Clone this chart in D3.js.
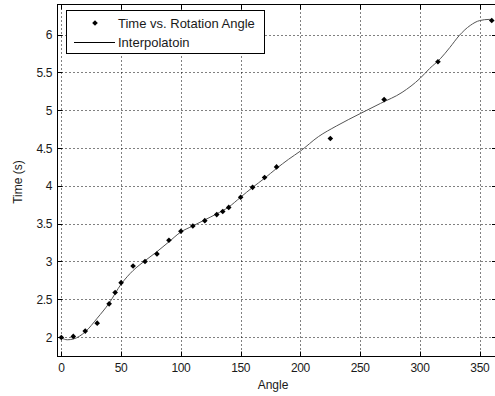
<!DOCTYPE html>
<html>
<head>
<meta charset="utf-8">
<script src="https://cdn.jsdelivr.net/npm/d3@7"></script>
<style>
  body { margin: 0; background: #fff; }
  text { font-family: "Liberation Sans", Arial, sans-serif; fill: #1a1a1a; }
</style>
</head>
<body>
<div id="chart"></div>
<script>
// measured samples (angle, time)
const angles = [0, 10, 20, 30, 40, 45, 50, 60, 70, 80, 90, 100, 110, 120, 130, 135, 140, 150, 160, 170, 180, 225, 270, 315, 360];
const times = [1.995, 2.01, 2.08, 2.185, 2.44, 2.59, 2.72, 2.94, 3.0, 3.1, 3.28, 3.40, 3.47, 3.54, 3.62, 3.66, 3.715, 3.85, 3.98, 4.11, 4.25, 4.625, 5.14, 5.64, 6.186];

// interpolation curve
const curveX = [0, 5, 10, 20, 30, 40, 50, 60, 70, 80, 90, 100, 110, 120, 130, 140, 150, 160, 170, 180, 190, 200, 215, 230, 250, 267, 285, 300, 308, 317, 325, 333, 342, 350, 358, 362];
const curveY = [1.99, 1.965, 1.975, 2.07, 2.25, 2.45, 2.7, 2.88, 3.01, 3.13, 3.26, 3.39, 3.47, 3.55, 3.63, 3.72, 3.85, 3.98, 4.1, 4.23, 4.35, 4.46, 4.65, 4.79, 4.955, 5.09, 5.235, 5.42, 5.55, 5.68, 5.83, 5.99, 6.12, 6.185, 6.2, 6.18];

const xTicks = [0, 50, 100, 150, 200, 250, 300, 350];
const yTicks = [2, 2.5, 3, 3.5, 4, 4.5, 5, 5.5, 6];

const legendLabels = ["Time vs. Rotation Angle", "Interpolatoin"];

const width = 495, height = 396;
const plotLeft = 57.5, plotRight = 497, plotTop = 4.5, plotBottom = 356.5;

const svg = d3.select("#chart").append("svg")
    .attr("width", width)
    .attr("height", height);

const x = d3.scaleLinear().domain([-3.2, 364.4]).range([plotLeft, plotRight]);
const y = d3.scaleLinear().domain([1.744, 6.397]).range([plotBottom, plotTop]);

const marker = d3.symbol().type(d3.symbolDiamond2 || d3.symbolDiamond).size(20);

// dotted grid
svg.append("g").selectAll("line")
    .data(xTicks)
    .enter().append("line")
    .attr("x1", d => Math.round(x(d)) + 0.5)
    .attr("x2", d => Math.round(x(d)) + 0.5)
    .attr("y1", plotTop)
    .attr("y2", plotBottom)
    .attr("stroke", "#000")
    .attr("stroke-dasharray", "1,3");

svg.append("g").selectAll("line")
    .data(yTicks)
    .enter().append("line")
    .attr("x1", plotLeft)
    .attr("x2", plotRight)
    .attr("y1", d => Math.round(y(d)) + 0.5)
    .attr("y2", d => Math.round(y(d)) + 0.5)
    .attr("stroke", "#000")
    .attr("stroke-dasharray", "1,3");

// frame
svg.append("rect")
    .attr("x", plotLeft)
    .attr("y", plotTop)
    .attr("width", plotRight - plotLeft)
    .attr("height", plotBottom - plotTop)
    .attr("fill", "none")
    .attr("stroke", "#000");

// inward ticks on all sides
const tickLen = 5;
const ticks = svg.append("g").attr("stroke", "#000");
xTicks.forEach(t => {
    const px = Math.round(x(t)) + 0.5;
    ticks.append("line").attr("x1", px).attr("x2", px).attr("y1", plotBottom).attr("y2", plotBottom - tickLen);
    ticks.append("line").attr("x1", px).attr("x2", px).attr("y1", plotTop).attr("y2", plotTop + tickLen);
});
yTicks.forEach(t => {
    const py = Math.round(y(t)) + 0.5;
    ticks.append("line").attr("x1", plotLeft).attr("x2", plotLeft + tickLen).attr("y1", py).attr("y2", py);
    ticks.append("line").attr("x1", plotRight).attr("x2", plotRight - tickLen).attr("y1", py).attr("y2", py);
});

// tick labels
svg.append("g").selectAll("text")
    .data(xTicks)
    .enter().append("text")
    .attr("x", d => x(d))
    .attr("y", 372)
    .attr("text-anchor", "middle")
    .style("font-size", "12px")
    .style("letter-spacing", "-0.4px")
    .text(d => d);

svg.append("g").selectAll("text")
    .data(yTicks)
    .enter().append("text")
    .attr("x", 52)
    .attr("y", d => y(d) + 4.5)
    .attr("text-anchor", "end")
    .style("font-size", "12px")
    .style("letter-spacing", "-0.4px")
    .text(d => d);

// axis titles
svg.append("text")
    .attr("x", 273)
    .attr("y", 389)
    .attr("text-anchor", "middle")
    .style("font-size", "12px")
    .text("Angle");

svg.append("text")
    .attr("transform", "translate(22,182) rotate(-90)")
    .attr("text-anchor", "middle")
    .style("font-size", "12px")
    .text("Time (s)");

// interpolation line
const curveData = curveX.map((d, i) => [d, curveY[i]]);
const line = d3.line()
    .x(d => x(d[0]))
    .y(d => y(d[1]))
    .curve(d3.curveMonotoneX);

svg.append("path")
    .datum(curveData)
    .attr("d", line)
    .attr("fill", "none")
    .attr("stroke", "#555")
    .attr("stroke-width", 1);

// sample points
svg.append("g").selectAll("path")
    .data(angles.map((a, i) => [a, times[i]]))
    .enter().append("path")
    .attr("transform", d => `translate(${x(d[0])},${y(d[1])})`)
    .attr("d", marker)
    .attr("fill", "#000");

// legend
const legend = svg.append("g");
legend.append("rect")
    .attr("x", 66.5)
    .attr("y", 10.5)
    .attr("width", 198)
    .attr("height", 43)
    .attr("fill", "#fff")
    .attr("stroke", "#000");

legend.append("path")
    .attr("transform", "translate(95,23)")
    .attr("d", marker)
    .attr("fill", "#000");

legend.append("line")
    .attr("x1", 74)
    .attr("x2", 115)
    .attr("y1", 42.5)
    .attr("y2", 42.5)
    .attr("stroke", "#000");

legend.selectAll("text.lbl")
    .data(legendLabels)
    .enter().append("text")
    .attr("class", "lbl")
    .attr("x", 118)
    .attr("y", (d, i) => 28 + i * 19)
    .style("font-size", "13px")
    .text(d => d);
</script>
</body>
</html>
